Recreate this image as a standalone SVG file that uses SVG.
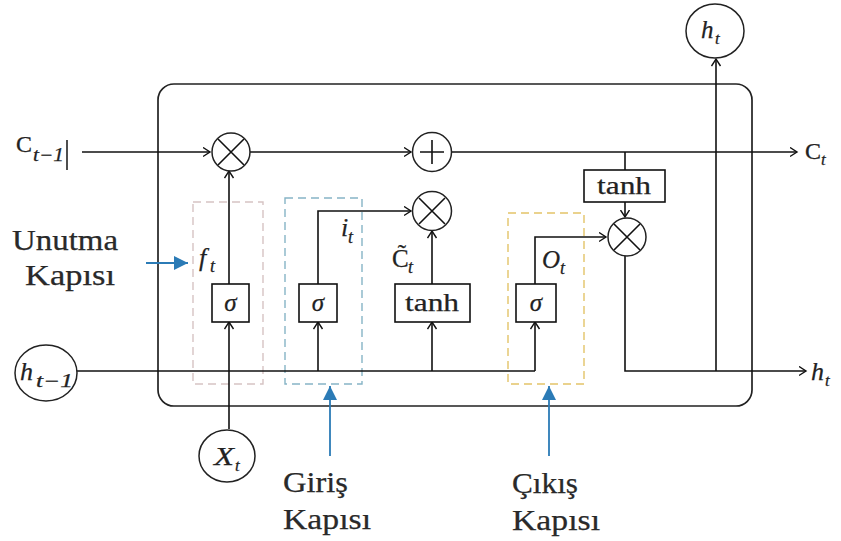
<svg xmlns="http://www.w3.org/2000/svg" width="841" height="541" viewBox="0 0 841 541">
<defs>
<marker id="arr" markerUnits="userSpaceOnUse" markerWidth="10" markerHeight="12" refX="7.5" refY="5" orient="auto">
<path d="M0.5,0.5 L7.5,5 L0.5,9.5" fill="none" stroke="#111" stroke-width="1.4"/>
</marker>
<marker id="barr" markerUnits="userSpaceOnUse" markerWidth="16" markerHeight="14" refX="14" refY="7" orient="auto">
<path d="M0,0 L14,7 L0,14 Z" fill="#2b7bb6"/>
</marker>
<style>
.ln{fill:none;stroke:#111;stroke-width:1.6}
.op{fill:#fff;stroke:#222;stroke-width:1.5}
.bx{fill:#fff;stroke:#111;stroke-width:1.6}
.dash{fill:none;stroke-width:1.4;stroke-dasharray:8 5}
.blue{fill:none;stroke:#2b7bb6;stroke-width:1.8}
text{font-family:"Liberation Serif","DejaVu Serif","Times New Roman",serif;fill:#222;stroke:#222;stroke-width:0.25}
.it{font-style:italic}
.lab{font-size:30px;fill:#2a2a2a}
</style>
</defs>
<rect width="841" height="541" fill="#fff"/>

<g id="cell">
<rect x="158" y="84" width="594" height="322" rx="16" ry="16" fill="none" stroke="#222" stroke-width="1.7"/>
</g>

<g id="gates">
<rect id="forget-gate" class="dash" x="193" y="202" width="70" height="182" stroke="#d6c3c3"/>
<rect id="input-gate" class="dash" x="285" y="198" width="77" height="186" stroke="#86b4c6"/>
<rect id="output-gate" class="dash" x="508" y="213" width="76" height="171" stroke="#e3c468"/>
</g>

<g id="connectors">
<line class="ln" x1="82" y1="152" x2="210" y2="152" marker-end="url(#arr)"/>
<line class="ln" x1="250" y1="152" x2="411" y2="152" marker-end="url(#arr)"/>
<line class="ln" x1="452" y1="152" x2="797" y2="152" marker-end="url(#arr)"/>
<polyline class="ln" points="77,371 535,371"/>
<line class="ln" x1="229" y1="429" x2="229" y2="322" marker-end="url(#arr)"/>
<line class="ln" x1="229" y1="284" x2="229" y2="171" marker-end="url(#arr)"/>
<line class="ln" x1="318" y1="371" x2="318" y2="322" marker-end="url(#arr)"/>
<polyline class="ln" points="318,284 318,211 411,211" marker-end="url(#arr)"/>
<line class="ln" x1="432" y1="371" x2="432" y2="322" marker-end="url(#arr)"/>
<line class="ln" x1="432" y1="284" x2="432" y2="231" marker-end="url(#arr)"/>
<line class="ln" x1="535" y1="371" x2="535" y2="322" marker-end="url(#arr)"/>
<polyline class="ln" points="535,284 535,237 606,237" marker-end="url(#arr)"/>
<line class="ln" x1="625" y1="152" x2="625" y2="170"/>
<line class="ln" x1="625" y1="202" x2="625" y2="217" marker-end="url(#arr)"/>
<polyline class="ln" points="625,256 625,371 806,371" marker-end="url(#arr)" stroke="#333"/>
<line class="ln" x1="716" y1="371" x2="716" y2="59" marker-end="url(#arr)"/>
<line class="blue" x1="146" y1="263" x2="188" y2="263" marker-end="url(#barr)"/>
<line class="blue" x1="330" y1="456" x2="330" y2="386" marker-end="url(#barr)"/>
<line class="blue" x1="549" y1="456" x2="549" y2="386" marker-end="url(#barr)"/>
<line x1="67" y1="140" x2="67" y2="170" stroke="#222" stroke-width="1.6"/>
</g>

<g id="mul-forget">
<circle class="op" cx="231" cy="152" r="19"/>
<path class="ln" d="M218,139 L244,165 M244,139 L218,165" stroke-width="1.3"/>
</g>
<g id="add-cell">
<circle class="op" cx="432" cy="152" r="19.5"/>
<path class="ln" d="M432,140 L432,164 M420,152 L444,152" stroke-width="1.3"/>
</g>
<g id="mul-input">
<circle class="op" cx="432" cy="211" r="19.5"/>
<path class="ln" d="M419,198 L445,224 M445,198 L419,224" stroke-width="1.3"/>
</g>
<g id="mul-output">
<circle class="op" cx="627" cy="237" r="19"/>
<path class="ln" d="M614,224 L640,250 M640,224 L614,250" stroke-width="1.3"/>
</g>

<g id="sigma-forget">
<rect class="bx" x="212" y="284" width="37" height="38"/>
<text class="it" x="230.5" y="311" font-size="25" text-anchor="middle">σ</text>
</g>
<g id="sigma-input">
<rect class="bx" x="299" y="284" width="38" height="38"/>
<text class="it" x="318" y="311" font-size="25" text-anchor="middle">σ</text>
</g>
<g id="tanh-candidate">
<rect class="bx" x="395" y="284" width="75" height="38"/>
<text x="405" y="311" font-size="25" textLength="54" lengthAdjust="spacingAndGlyphs">tanh</text>
</g>
<g id="sigma-output">
<rect class="bx" x="516" y="284" width="40" height="38"/>
<text class="it" x="536" y="311" font-size="25" text-anchor="middle">σ</text>
</g>
<g id="tanh-cell">
<rect class="bx" x="584" y="170" width="81" height="32"/>
<text x="597" y="194" font-size="25" textLength="54" lengthAdjust="spacingAndGlyphs">tanh</text>
</g>

<g id="h-prev">
<ellipse class="op" cx="46" cy="373" rx="31" ry="28"/>
<text class="it" x="20" y="380" font-size="26">h</text>
<text class="it" x="36" y="387" font-size="18" textLength="37" lengthAdjust="spacingAndGlyphs">t−1</text>
</g>
<g id="x-t">
<ellipse class="op" cx="227" cy="456" rx="28" ry="26"/>
<text class="it" x="214" y="465" font-size="25" textLength="20" lengthAdjust="spacingAndGlyphs">X</text>
<text class="it" x="235" y="471" font-size="17">t</text>
</g>
<g id="h-out-top">
<ellipse class="op" cx="715" cy="31" rx="29" ry="27"/>
<text class="it" x="701" y="38" font-size="25">h</text>
<text class="it" x="715" y="44" font-size="17">t</text>
</g>

<g id="labels">
<text x="16" y="152" font-size="24" textLength="16" lengthAdjust="spacingAndGlyphs">C</text>
<text class="it" x="33" y="161" font-size="18" textLength="31" lengthAdjust="spacingAndGlyphs">t−1</text>
<text x="805" y="159" font-size="24">C</text>
<text class="it" x="821" y="165" font-size="17">t</text>
<text class="it" x="811" y="380" font-size="26">h</text>
<text class="it" x="825" y="386" font-size="17">t</text>
<text class="it" x="199" y="266" font-size="26">f</text>
<text class="it" x="210" y="272" font-size="18">t</text>
<text class="it" x="341" y="236" font-size="26">i</text>
<text class="it" x="348" y="243" font-size="18">t</text>
<text x="392" y="267" font-size="25">C&#x303;</text>
<text class="it" x="408" y="273" font-size="18">t</text>
<text class="it" x="542" y="268" font-size="25">O</text>
<text class="it" x="560" y="274" font-size="18">t</text>
</g>

<g id="gate-labels">
<text class="lab" x="12" y="250" textLength="106" lengthAdjust="spacingAndGlyphs">Unutma</text>
<text class="lab" x="25" y="285" textLength="90" lengthAdjust="spacingAndGlyphs">Kapısı</text>
<text class="lab" x="283" y="492" textLength="65" lengthAdjust="spacingAndGlyphs">Giriş</text>
<text class="lab" x="283" y="529" textLength="88" lengthAdjust="spacingAndGlyphs">Kapısı</text>
<text class="lab" x="512" y="493" textLength="66" lengthAdjust="spacingAndGlyphs">Çıkış</text>
<text class="lab" x="512" y="530" textLength="88" lengthAdjust="spacingAndGlyphs">Kapısı</text>
</g>
</svg>
